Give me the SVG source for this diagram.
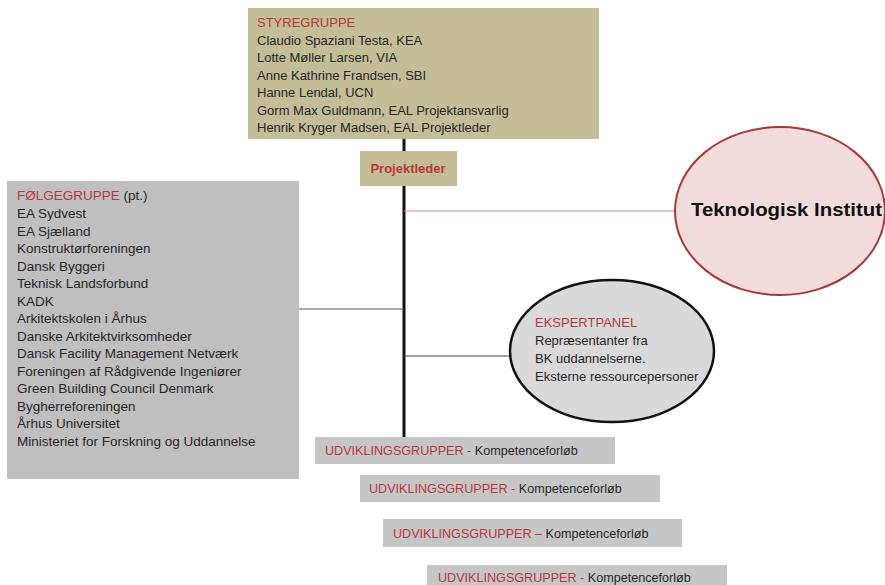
<svg xmlns="http://www.w3.org/2000/svg" width="885" height="585" viewBox="0 0 885 585">
<style>
text{font-family:"Liberation Sans",Arial,sans-serif;font-size:13px;fill:#262626}
.red{fill:#b5393a}
.tan{fill:#c4bd97}
.grey{fill:#bfbfbf}
.ug{fill:#c6c6c6}
.u{font-size:12.6px}
.f{font-size:13.5px}
</style>
<rect width="885" height="585" fill="#ffffff"/>
<g id="connectors">
<line x1="404" y1="138" x2="404" y2="152" stroke="#111" stroke-width="3"/>
<line x1="404" y1="186" x2="404" y2="437" stroke="#111" stroke-width="3"/>
<line x1="299" y1="309" x2="404" y2="309" stroke="#555" stroke-width="1.2"/>
<line x1="404" y1="211" x2="676" y2="211" stroke="#d08a88" stroke-width="1.2"/>
<line x1="404" y1="356" x2="511" y2="356" stroke="#444" stroke-width="1.2"/>
</g>
<g id="styregruppe">
<rect class="tan" x="248" y="8" width="351" height="131"/>
<text x="257" y="27" class="red">STYREGRUPPE</text>
<text x="257" y="45">Claudio Spaziani Testa, KEA</text>
<text x="257" y="62">Lotte Møller Larsen, VIA</text>
<text x="257" y="80">Anne Kathrine Frandsen, SBI</text>
<text x="257" y="97">Hanne Lendal, UCN</text>
<text x="257" y="115">Gorm Max Guldmann, EAL Projektansvarlig</text>
<text x="257" y="132">Henrik Kryger Madsen, EAL Projektleder</text>
</g>
<g id="projektleder">
<rect class="tan" x="360" y="151" width="97" height="35"/>
<text x="408" y="173" text-anchor="middle" class="red" font-weight="bold">Projektleder</text>
</g>
<g id="folgegruppe">
<rect class="grey" x="7" y="181" width="292" height="298"/>
<text class="f" x="17" y="200"><tspan class="red">FØLGEGRUPPE</tspan> (pt.)</text>
<text class="f" x="17" y="218">EA Sydvest</text>
<text class="f" x="17" y="235.5">EA Sjælland</text>
<text class="f" x="17" y="253">Konstruktørforeningen</text>
<text class="f" x="17" y="270.5">Dansk Byggeri</text>
<text class="f" x="17" y="288">Teknisk Landsforbund</text>
<text class="f" x="17" y="305.5">KADK</text>
<text class="f" x="17" y="323">Arkitektskolen i Århus</text>
<text class="f" x="17" y="340.5">Danske Arkitektvirksomheder</text>
<text class="f" x="17" y="358">Dansk Facility Management Netværk</text>
<text class="f" x="17" y="375.5">Foreningen af Rådgivende Ingeniører</text>
<text class="f" x="17" y="393">Green Building Council Denmark</text>
<text class="f" x="17" y="410.5">Bygherreforeningen</text>
<text class="f" x="17" y="428">Århus Universitet</text>
<text class="f" x="17" y="445.5">Ministeriet for Forskning og Uddannelse</text>
</g>
<g id="teknologisk">
<ellipse cx="780" cy="211" rx="105" ry="84" fill="#f2dcdb" stroke="#a33a3a" stroke-width="2"/>
<text x="691" y="216" font-weight="bold" style="font-size:18px;fill:#111" textLength="191" lengthAdjust="spacingAndGlyphs">Teknologisk Institut</text>
</g>
<g id="ekspertpanel">
<ellipse cx="612" cy="351" rx="102" ry="71" fill="#d9d9d9" stroke="#111" stroke-width="2.5"/>
<text x="535" y="327" class="red">EKSPERTPANEL</text>
<text x="535" y="345">Repræsentanter fra</text>
<text x="535" y="363">BK uddannelserne.</text>
<text x="535" y="381">Eksterne ressourcepersoner</text>
</g>
<g id="udvikling1">
<rect class="ug" x="315" y="437" width="300" height="27"/>
<text class="u" x="325" y="455"><tspan class="red">UDVIKLINGSGRUPPER -</tspan> Kompetenceforløb</text>
</g>
<g id="udvikling2">
<rect class="ug" x="360" y="475" width="300" height="27"/>
<text class="u" x="369" y="493"><tspan class="red">UDVIKLINGSGRUPPER -</tspan> Kompetenceforløb</text>
</g>
<g id="udvikling3">
<rect class="ug" x="383" y="519" width="299" height="28"/>
<text class="u" x="393" y="538"><tspan class="red">UDVIKLINGSGRUPPER –</tspan> Kompetenceforløb</text>
</g>
<g id="udvikling4">
<rect class="ug" x="427" y="565" width="300" height="25"/>
<text class="u" x="438" y="582"><tspan class="red">UDVIKLINGSGRUPPER -</tspan> Kompetenceforløb</text>
</g>
</svg>
